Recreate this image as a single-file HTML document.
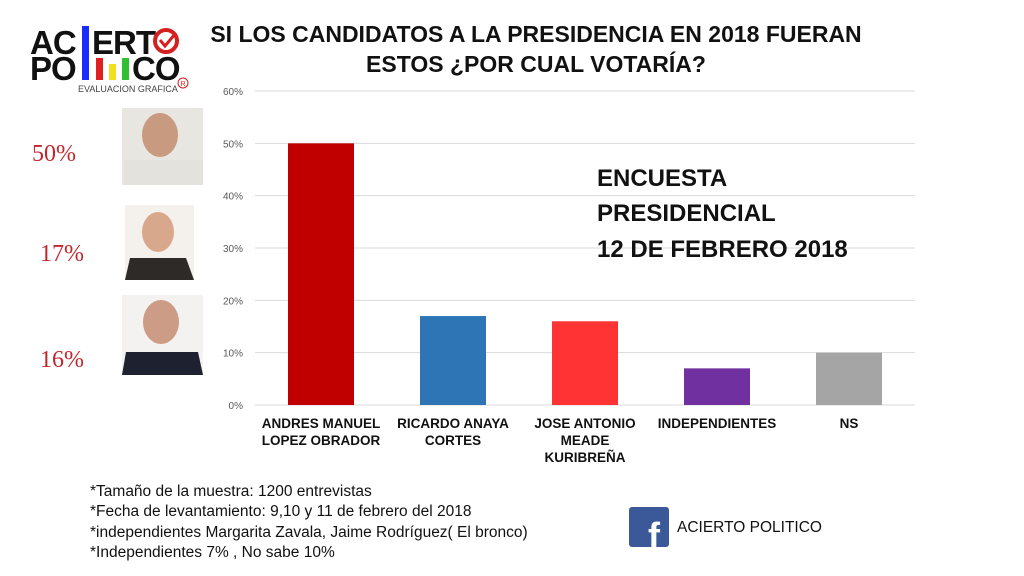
<!DOCTYPE html>
<html><head><meta charset="utf-8"><style>
body{margin:0;background:#fff;}
svg{display:block;font-family:"Liberation Sans",sans-serif;}
</style></head><body>
<svg width="1024" height="576" viewBox="0 0 1024 576">
<g>
<text x="30" y="54" font-size="33" font-weight="bold" fill="#111" font-family="Liberation Sans" letter-spacing="-1">AC</text>
<rect x="82" y="26" width="7" height="54" fill="#1a2bff"/>
<text x="92" y="54" font-size="33" font-weight="bold" fill="#111" letter-spacing="-1">ERT</text>
<circle cx="166" cy="41" r="11" fill="none" stroke="#d42020" stroke-width="4"/>
<path d="M160 40 l5 6 l10 -12" stroke="#d42020" stroke-width="3" fill="none"/>
<text x="30" y="80" font-size="33" font-weight="bold" fill="#111" letter-spacing="-1">PO</text>
<rect x="96" y="58" width="7" height="22" fill="#e02020"/>
<rect x="109" y="64" width="7" height="16" fill="#f0e020"/>
<rect x="122" y="58" width="7" height="22" fill="#30c030"/>
<text x="132" y="80" font-size="33" font-weight="bold" fill="#111" letter-spacing="-1">CO</text>
<text x="78" y="92" font-size="9" fill="#444">EVALUACION GRAFICA</text>
<circle cx="183" cy="83" r="5" fill="none" stroke="#d42020"/>
<text x="180.5" y="86" font-size="7" fill="#d42020">R</text>
</g>
<text x="536" y="42" text-anchor="middle" font-size="23" font-weight="bold" fill="#111">SI LOS CANDIDATOS A LA PRESIDENCIA EN 2018 FUERAN</text>
<text x="536" y="72" text-anchor="middle" font-size="23" font-weight="bold" fill="#111">ESTOS ¿POR CUAL VOTARÍA?</text>
<g>
<rect x="122" y="108" width="81" height="77" fill="#e8e6e0"/><ellipse cx="160" cy="135" rx="18" ry="22" fill="#c89a80"/><rect x="124" y="160" width="79" height="25" fill="#e4e2dc"/>
<rect x="125" y="205" width="69" height="75" fill="#f4f0ec"/><ellipse cx="158" cy="232" rx="16" ry="20" fill="#d8a88c"/><path d="M125 280 L130 258 L186 258 L194 280Z" fill="#2e2a28"/>
<rect x="122" y="295" width="81" height="80" fill="#f4f2f0"/><ellipse cx="161" cy="322" rx="18" ry="22" fill="#cc9c86"/><path d="M122 375 L126 352 L198 352 L203 375Z" fill="#1e2230"/>
</g>
<g font-family="Liberation Serif" font-size="24" fill="#c0272d">
<text x="32" y="161">50%</text><text x="40" y="261">17%</text><text x="40" y="367">16%</text>
</g>
<g id="grid"></g><g id="bars"></g><g id="labels"></g>
<g font-size="24" font-weight="bold" fill="#111">
<text x="597" y="186">ENCUESTA</text><text x="597" y="221">PRESIDENCIAL</text><text x="597" y="257">12 DE FEBRERO 2018</text>
</g>
<g font-size="15.5" fill="#111">
<text x="90" y="496">*Tamaño de la muestra: 1200 entrevistas</text>
<text x="90" y="516">*Fecha de levantamiento: 9,10 y 11 de febrero  del 2018</text>
<text x="90" y="537">*independientes  Margarita Zavala, Jaime Rodríguez( El bronco)</text>
<text x="90" y="557">*Independientes  7% , No sabe 10%</text>
</g>
<g>
<rect x="629" y="507" width="40" height="40" rx="3" fill="#3b5998"/>
<text x="648" y="548" font-size="36" font-weight="bold" fill="#fff">f</text>
<text x="677" y="532" font-size="15.5" fill="#111">ACIERTO POLITICO</text>
</g>
<script>
const categories=[["ANDRES MANUEL","LOPEZ OBRADOR"],["RICARDO ANAYA","CORTES"],["JOSE ANTONIO","MEADE","KURIBREÑA"],["INDEPENDIENTES"],["NS"]];
const values=[50,17,16,7,10];
const colors=["#c00000","#2e75b6","#ff3333","#7030a0","#a5a5a5"];
const ticks=[0,10,20,30,40,50,60];
const ns="http://www.w3.org/2000/svg";
const x0=255,x1=915,y0=405,yTop=91,max=60;
const y=v=>y0-(v/max)*(y0-yTop);
const slot=(x1-x0)/values.length;
function mk(t,a,p){const e=document.createElementNS(ns,t);for(const k in a)e.setAttribute(k,a[k]);p.appendChild(e);return e;}
const g=document.getElementById('grid');
ticks.forEach(t=>{
 const l=mk('line',{x1:x0,x2:x1,y1:y(t),y2:y(t),stroke:'#d9d9d9','stroke-width':1},g);
 
 
 const tx=mk('text',{x:x0-12,y:y(t)+4,'text-anchor':'end','font-size':10,fill:'#595959'},g);
 tx.textContent=t+'%';
 
 
});
const b=document.getElementById('bars'),lb=document.getElementById('labels');
values.forEach((v,i)=>{
 const cx=x0+slot*(i+0.5),w=66;
 const r=mk('rect',{x:cx-w/2,y:y(v),width:w,height:y0-y(v),fill:colors[i]},b);
 
 
 const t=mk('text',{x:cx,'text-anchor':'middle','font-size':13.5,'font-weight':'bold',fill:'#111'},lb);
 
 
 categories[i].forEach((s,j)=>{const ts=mk('tspan',{x:cx,y:428+j*17},t);ts.textContent=s;});
});
</script>
</svg>
</body></html>
